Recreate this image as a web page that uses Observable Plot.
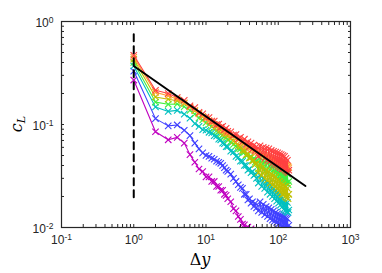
<!DOCTYPE html>
<html><head><meta charset="utf-8">
<script src="https://cdn.jsdelivr.net/npm/d3@7"></script>
<script src="https://cdn.jsdelivr.net/npm/@observablehq/plot@0.6"></script>
<style>body{margin:0;background:#fff}</style>
</head><body><div id="chart"></div>
<script>
const dy = [1,2,3,4,5,6,7,8,9,10,11,12,13,14,15,16,17,18,19,20,22,24,26,28,30,32,34,36,38,40,42,44,46,48,50,53,56,59,62,65,68,71,74,77,80,83,86,89,92,95,98,101,104,107,110,113,116,119,122,125,128,131,134,137,140];
const cRed = [0.47,0.215,0.2,0.183,0.172,0.152,0.146,0.131,0.127,0.118,0.117,0.108,0.108,0.1,0.101,0.094,0.096,0.089,0.092,0.086,0.085,0.079,0.08,0.073,0.075,0.068,0.072,0.064,0.068,0.061,0.066,0.058,0.063,0.056,0.061,0.049,0.062,0.051,0.06,0.047,0.059,0.045,0.058,0.044,0.056,0.042,0.055,0.041,0.054,0.04,0.053,0.039,0.052,0.038,0.051,0.037,0.05,0.037,0.049,0.036,0.047,0.035,0.045,0.034,0.036];
const cOrange = [0.45,0.205,0.19,0.176,0.162,0.148,0.137,0.127,0.12,0.113,0.109,0.104,0.1,0.097,0.094,0.091,0.088,0.086,0.084,0.082,0.079,0.076,0.074,0.071,0.069,0.066,0.065,0.062,0.062,0.059,0.059,0.057,0.056,0.055,0.054,0.053,0.052,0.051,0.051,0.05,0.049,0.049,0.048,0.047,0.047,0.046,0.046,0.045,0.045,0.044,0.044,0.043,0.043,0.043,0.042,0.042,0.041,0.041,0.041,0.04,0.04,0.04,0.039,0.039,0.038];
const cOlive = [0.43,0.185,0.176,0.17,0.16,0.148,0.136,0.128,0.119,0.114,0.108,0.104,0.1,0.095,0.093,0.088,0.087,0.082,0.081,0.077,0.074,0.069,0.067,0.062,0.061,0.056,0.056,0.051,0.052,0.047,0.048,0.044,0.045,0.041,0.042,0.034,0.041,0.032,0.039,0.03,0.036,0.029,0.035,0.027,0.033,0.026,0.032,0.025,0.031,0.024,0.029,0.023,0.028,0.022,0.027,0.021,0.026,0.021,0.025,0.02,0.025,0.0195,0.024,0.019,0.021];
const cGreen = [0.4,0.165,0.157,0.158,0.149,0.137,0.126,0.116,0.111,0.104,0.1,0.095,0.092,0.087,0.085,0.081,0.079,0.076,0.075,0.071,0.068,0.064,0.062,0.058,0.058,0.054,0.054,0.05,0.051,0.048,0.049,0.045,0.047,0.043,0.045,0.037,0.047,0.038,0.045,0.035,0.044,0.034,0.043,0.036,0.041,0.032,0.04,0.031,0.041,0.03,0.039,0.029,0.038,0.03,0.037,0.028,0.037,0.028,0.035,0.027,0.035,0.027,0.033,0.026,0.028];
const cCyan = [0.37,0.148,0.134,0.137,0.126,0.115,0.102,0.096,0.089,0.088,0.084,0.083,0.078,0.077,0.072,0.071,0.066,0.065,0.061,0.061,0.055,0.054,0.049,0.048,0.044,0.044,0.04,0.04,0.036,0.037,0.034,0.035,0.032,0.033,0.03,0.027,0.032,0.025,0.03,0.024,0.028,0.022,0.027,0.021,0.025,0.02,0.024,0.019,0.023,0.018,0.022,0.0172,0.021,0.0165,0.02,0.0158,0.019,0.015,0.0185,0.0146,0.018,0.0142,0.0175,0.014,0.0148];
const cBlue = [0.33,0.114,0.097,0.099,0.088,0.078,0.066,0.058,0.053,0.05,0.049,0.047,0.046,0.044,0.043,0.042,0.04,0.038,0.036,0.035,0.033,0.03,0.028,0.026,0.0245,0.024,0.021,0.021,0.0185,0.019,0.0172,0.0178,0.016,0.0172,0.0155,0.0145,0.0178,0.014,0.0168,0.0133,0.016,0.0128,0.0155,0.0122,0.015,0.0118,0.0145,0.0115,0.014,0.0112,0.0136,0.0108,0.0133,0.0105,0.013,0.0102,0.0128,0.0099,0.0126,0.0098,0.0124,0.0097,0.0122,0.0096,0.0105];
const cMagenta = [0.27,0.085,0.071,0.075,0.066,0.051,0.043,0.037,0.035,0.031,0.031,0.028,0.028,0.025,0.025,0.023,0.023,0.021,0.0205,0.019,0.0178,0.0152,0.0145,0.0128,0.012,0.0108,0.0106,0.0098,0.0101,0.0094,0.0097,0.009,0.0093,0.0087,0.0089];

const seriesNames = ["magenta","blue","cyan","green","olive","orange","red"];
const seriesValues = [cMagenta,cBlue,cCyan,cGreen,cOlive,cOrange,cRed];
const seriesColors = ["#c000c0","#4040ff","#00c0c0","#40f040","#bfbf00","#ffa030","#ff4040"];

const fitDy = [1, 238];
const fitC = [0.37, 0.0253];
const refDy = [1, 1];
const refC = [0.75, 0.0188];

const xTicks = [0.1, 1, 10, 100, 1000];
const yTicks = [0.01, 0.1, 1];
const xTickLabels = ["10^-1","10^0","10^1","10^2","10^3"];
const yTickLabels = ["10^-2","10^-1","10^0"];

const minor = (lo, hi) => { const out = []; for (let d = lo; d < hi; d *= 10) for (let k = 1; k < 10; k++) out.push(+(k * d).toPrecision(3)); out.push(hi); return out; };
const xMinor = minor(0.1, 1000);
const yMinor = minor(0.01, 1);

const rows = [];
seriesNames.forEach((s, i) => seriesValues[i].forEach((c, j) => rows.push({s, dy: dy[j], c})));
const fitRows = fitDy.map((d, i) => ({dy: d, c: fitC[i]}));
const refRows = refDy.map((d, i) => ({dy: d, c: refC[i]}));

const ink = "#262626";
const marks = [];
seriesNames.forEach((s, i) => {
  const d = rows.filter(r => r.s === s);
  marks.push(Plot.line(d, {x: "dy", y: "c", stroke: seriesColors[i], strokeWidth: 1.1, clip: true}));
  marks.push(Plot.dot(d, {x: "dy", y: "c", symbol: "times", r: 3, stroke: seriesColors[i], strokeWidth: 1.1, clip: true}));
});
marks.push(Plot.line(fitRows, {x: "dy", y: "c", stroke: "#000", strokeWidth: 2}));
marks.push(Plot.line(refRows, {x: "dy", y: "c", stroke: "#000", strokeWidth: 2, strokeDasharray: "7,5"}));
marks.push(Plot.frame({stroke: ink, strokeWidth: 1.2}));
for (const a of ["bottom","top"]) marks.push(Plot.axisX(xMinor, {anchor: a, tickSize: -3, fill: "none", stroke: ink, label: null}));
for (const a of ["left","right"]) marks.push(Plot.axisY(yMinor, {anchor: a, tickSize: -3, fill: "none", stroke: ink, label: null}));
marks.push(Plot.axisX(xTicks, {anchor: "bottom", tickSize: 0, tickPadding: 8, tickFormat: d => xTickLabels[xTicks.indexOf(d)], fill: ink, label: null}));
marks.push(Plot.axisY(yTicks, {anchor: "left", tickSize: 0, tickPadding: 8, dy: 1.5, tickFormat: d => yTickLabels[yTicks.indexOf(d)], fill: ink, label: null}));

const chart = Plot.plot({
  width: 382, height: 273,
  marginLeft: 61, marginRight: 32, marginTop: 21, marginBottom: 46,
  style: {fontFamily: "'Liberation Sans', Arial, sans-serif", fontSize: "12px", color: ink, background: "#fff"},
  x: {type: "log", domain: [0.1, 1000]},
  y: {type: "log", domain: [0.01, 1]},
  marks
});

// superscript exponents in tick labels
chart.querySelectorAll('g[aria-label="x-axis tick label"] text, g[aria-label="y-axis tick label"] text').forEach(t => {
  const s = t.textContent;
  const m = s.match(/^(\d+)\^(-?\d+)$/);
  if (!m) return;
  while (t.firstChild) t.removeChild(t.firstChild);
  const ns = "http://www.w3.org/2000/svg";
  const b = document.createElementNS(ns, "tspan"); b.textContent = m[1]; t.appendChild(b);
  const e = document.createElementNS(ns, "tspan"); e.textContent = m[2];
  e.setAttribute("dy", "-0.5em"); e.setAttribute("font-size", "8.5px"); t.appendChild(e);
});

// axis titles
const svg = d3.select(chart);
const xt = svg.append("text").attr("x", 200).attr("y", 265).attr("text-anchor", "middle")
  .attr("font-family", "'DejaVu Serif', 'Liberation Serif', serif").attr("font-size", 16).attr("fill", "#000");
xt.append("tspan").text("Δ");
xt.append("tspan").attr("font-style", "italic").text("y");
const yt = svg.append("text").attr("transform", "translate(22,124) rotate(-90)").attr("text-anchor", "middle")
  .attr("font-family", "'DejaVu Serif', 'Liberation Serif', serif").attr("font-size", 16).attr("fill", "#000");
yt.append("tspan").attr("font-style", "italic").text("c");
yt.append("tspan").attr("font-style", "italic").attr("font-size", 11).attr("dy", 3).text("L");

document.getElementById("chart").appendChild(chart);
</script>
</body></html>
